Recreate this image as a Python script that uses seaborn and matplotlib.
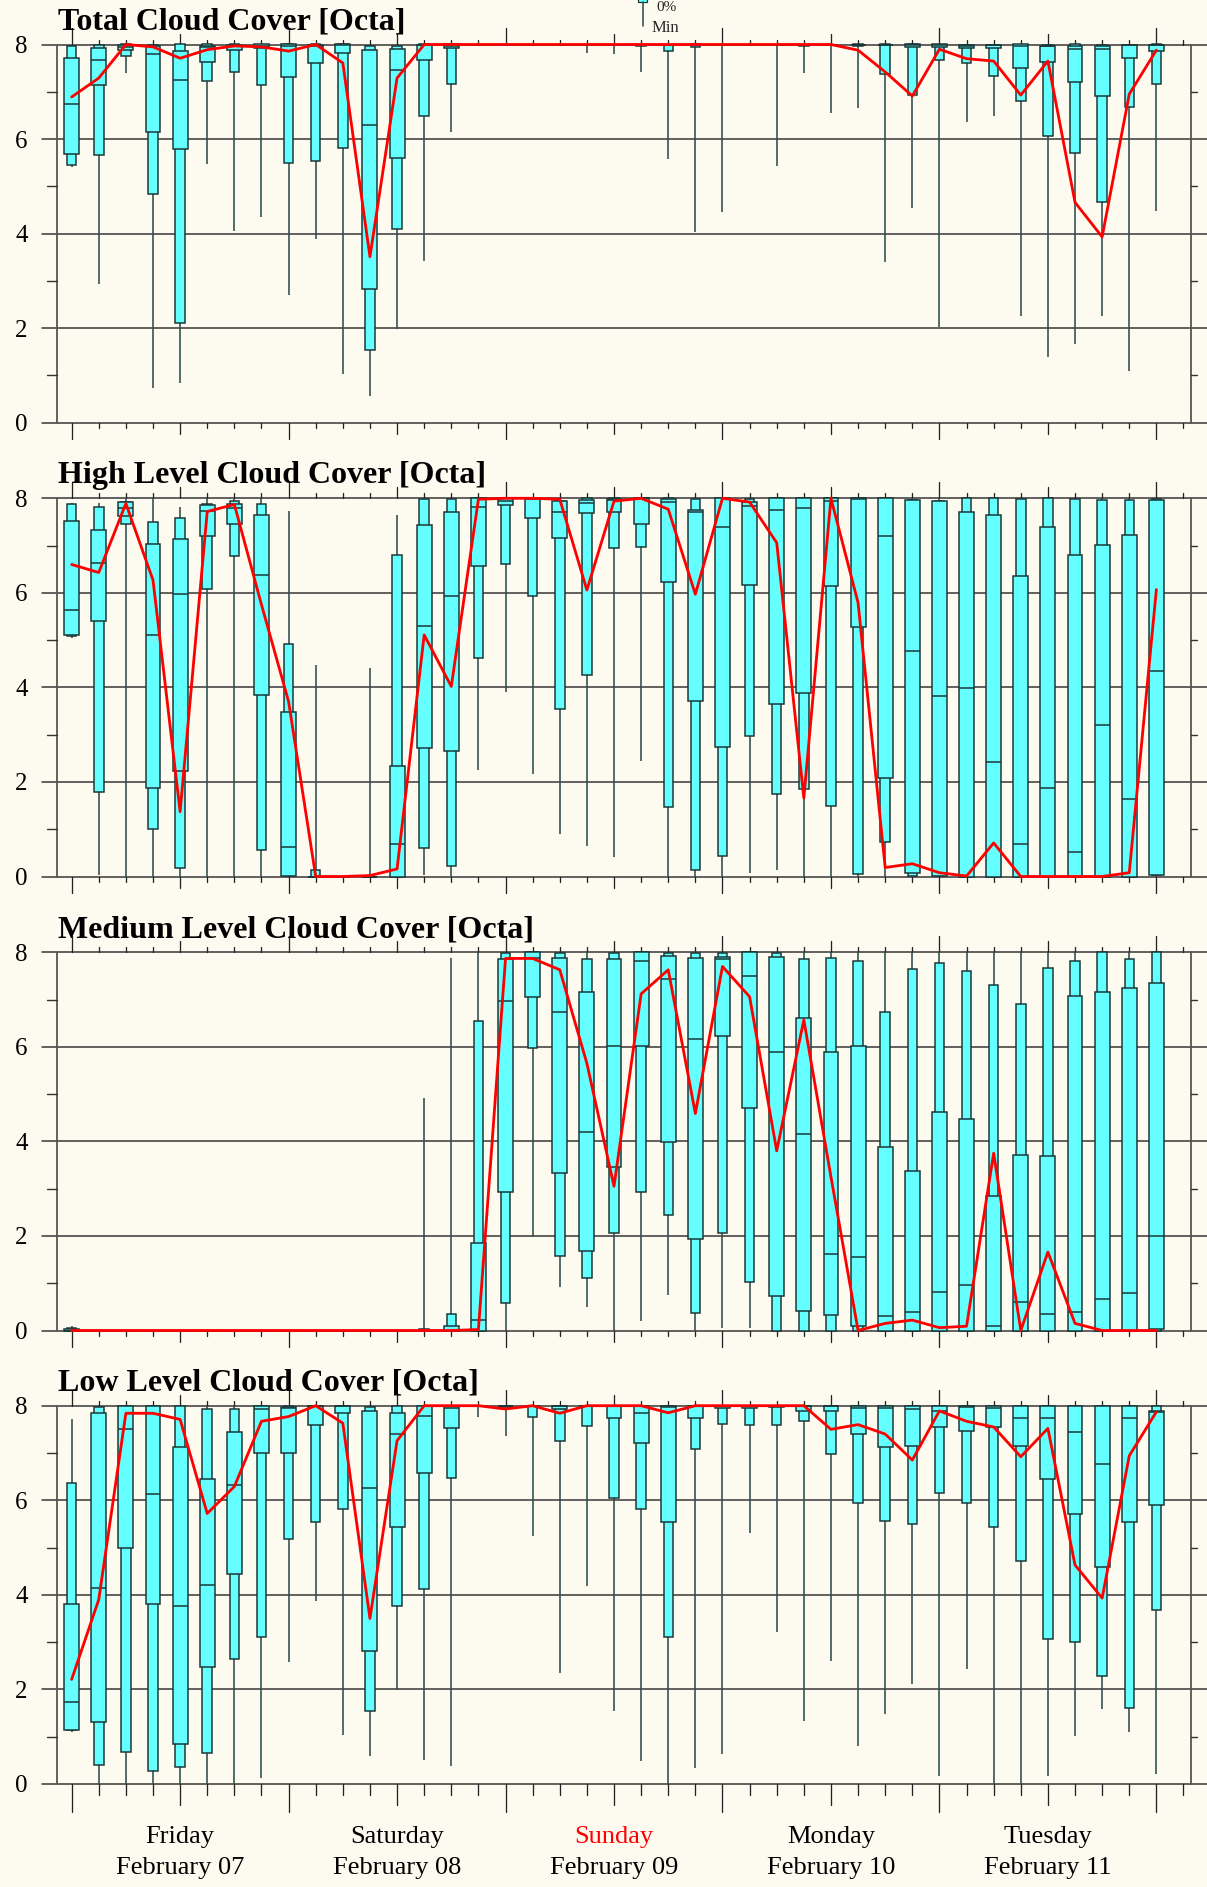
import numpy as np
import matplotlib
matplotlib.use('Agg')
import matplotlib.pyplot as plt
from matplotlib.patches import Rectangle
from matplotlib.lines import Line2D
import seaborn as sns

# forecast steps, hours after Friday 00 UTC
hours = list(range(0, 121, 3))
tick_hours = list(range(0, 124, 3))

day_names = ['Friday', 'Saturday', 'Sunday', 'Monday', 'Tuesday']
day_dates = ['February 07', 'February 08', 'February 09', 'February 10', 'February 11']
day_colors = ['black', 'black', 'red', 'black', 'black']

titles = ['Total Cloud Cover [Octa]', 'High Level Cloud Cover [Octa]',
          'Medium Level Cloud Cover [Octa]', 'Low Level Cloud Cover [Octa]']

# ---- Total cloud cover ----
total_min = [5.40, 2.94, 7.40, 0.74, 0.83, 5.48, 4.06, 4.36, 2.70, 3.88, 1.03, 0.57, 1.99, 3.42, 6.15, 8.0, 8.0, 8.0, 8.0, 7.81,
             7.80, 7.42, 5.57, 4.04, 4.46, 8.0, 5.43, 7.40, 6.55, 6.66, 3.39, 4.55, 2.03, 6.36, 6.49, 2.25, 1.40, 1.66, 2.25, 1.09, 4.47]
total_p10 = [5.46, 5.67, 7.75, 4.83, 2.11, 7.22, 7.41, 7.14, 5.50, 5.54, 5.81, 1.54, 4.09, 6.48, 7.17, 8.0, 8.0, 8.0, 8.0, 8.0,
             8.0, 7.96, 7.86, 7.95, 8.0, 8.0, 8.0, 7.96, 8.0, 7.97, 7.37, 6.94, 7.68, 7.60, 7.34, 6.81, 6.06, 5.71, 4.67, 6.68, 7.17]
total_p25 = [5.68, 7.15, 7.89, 6.15, 5.78, 7.62, 7.88, 7.92, 7.32, 7.60, 7.83, 2.83, 5.60, 7.67, 7.92, 8.0, 8.0, 8.0, 8.0, 8.0,
             8.0, 8.0, 8.0, 8.0, 8.0, 8.0, 8.0, 8.0, 8.0, 8.0, 8.0, 7.95, 7.95, 7.93, 7.93, 7.51, 7.62, 7.20, 6.92, 7.72, 7.87]
total_med = [6.74, 7.68, 7.95, 7.79, 7.24, 7.95, 7.96, 7.97, 7.97, 7.97, 7.98, 6.29, 7.47, 8.0, 7.97, 8.0, 8.0, 8.0, 8.0, 8.0,
             8.0, 8.0, 8.0, 8.0, 8.0, 8.0, 8.0, 8.0, 8.0, 8.0, 8.0, 8.0, 8.0, 7.97, 8.0, 7.97, 7.96, 7.91, 7.91, 8.0, 8.0]
total_p75 = [7.72, 7.93, 8.0, 7.97, 7.87, 7.96, 8.0, 8.0, 8.0, 8.0, 8.0, 7.89, 7.90, 8.0, 8.0, 8.0, 8.0, 8.0, 8.0, 8.0,
             8.0, 8.0, 8.0, 8.0, 8.0, 8.0, 8.0, 8.0, 8.0, 8.0, 8.0, 8.0, 8.0, 8.0, 8.0, 8.0, 7.96, 7.96, 7.96, 8.0, 8.0]
total_p90 = [7.96, 7.98, 8.0, 8.0, 8.0, 8.0, 8.0, 8.0, 8.0, 8.0, 8.0, 7.96, 7.97, 8.0, 8.0, 8.0, 8.0, 8.0, 8.0, 8.0,
             8.0, 8.0, 8.0, 8.0, 8.0, 8.0, 8.0, 8.0, 8.0, 8.0, 8.0, 8.0, 8.0, 8.0, 8.0, 8.0, 8.0, 8.0, 8.0, 8.0, 8.0]
total_max = [8.0] * 41
total_det = [6.89, 7.29, 8.0, 7.95, 7.71, 7.89, 7.97, 7.95, 7.86, 8.0, 7.61, 3.51, 7.29, 8.0, 8.0, 8.0, 8.0, 8.0, 8.0, 8.0,
             8.0, 8.0, 8.0, 8.0, 8.0, 8.0, 8.0, 8.0, 8.0, 7.88, 7.42, 6.91, 7.90, 7.70, 7.65, 6.93, 7.65, 4.66, 3.93, 6.95, 7.88]

# ---- High level cloud cover ----
high_min = [5.04, 0.04, 0.0, 0.0, 0.0, 0.0, 0.0, 0.0, 0.0, 0.0, 0.0, 0.0, 0.0, 0.04, 0.0, 2.26, 3.90, 2.16, 0.90, 0.65,
            0.41, 2.44, 0.0, 0.0, 0.0, 0.07, 0.14, 0.0, 0.0, 0.0, 0.0, 0.0, 0.0, 0.0, 0.0, 0.0, 0.0, 0.0, 0.0, 0.0, 0.0]
high_p10 = [5.09, 1.78, 7.45, 1.00, 0.18, 6.08, 6.78, 0.55, 0.02, 0.0, 0.0, 0.0, 0.0, 0.60, 0.23, 4.62, 6.60, 5.93, 3.54, 4.26,
            6.94, 6.96, 1.46, 0.14, 0.44, 2.97, 1.75, 1.86, 1.50, 0.05, 0.72, 0.02, 0.01, 0.0, 0.0, 0.0, 0.0, 0.0, 0.0, 0.0, 0.04]
high_p25 = [5.10, 5.41, 7.63, 1.87, 2.23, 7.20, 7.46, 3.83, 0.02, 0.0, 0.0, 0.0, 0.0, 2.72, 2.66, 6.57, 7.86, 7.58, 7.17, 7.68,
            7.70, 7.46, 6.24, 3.72, 2.74, 6.16, 3.65, 3.88, 6.14, 5.28, 2.08, 0.08, 0.01, 0.0, 0.0, 0.0, 0.0, 0.0, 0.0, 0.0, 0.04]
high_med = [5.63, 6.63, 7.80, 5.10, 5.98, 7.74, 7.79, 6.37, 0.63, 0.0, 0.0, 0.0, 0.68, 5.29, 5.93, 7.82, 7.95, 7.98, 7.70, 7.90,
            7.96, 8.0, 7.93, 7.70, 7.39, 7.84, 7.75, 7.80, 7.94, 7.98, 7.20, 4.76, 3.81, 3.98, 2.42, 0.68, 1.87, 0.51, 3.21, 1.64, 4.34]
high_p75 = [7.52, 7.33, 7.92, 7.03, 7.13, 7.86, 7.89, 7.65, 3.47, 0.0, 0.0, 0.0, 2.33, 7.44, 7.70, 8.0, 8.0, 8.0, 7.94, 7.96,
            7.98, 8.0, 7.98, 7.75, 8.0, 7.93, 8.0, 8.0, 8.0, 8.0, 8.0, 7.97, 7.94, 7.72, 7.65, 6.36, 7.39, 6.81, 7.01, 7.22, 7.96]
high_p90 = [7.89, 7.82, 7.93, 7.49, 7.58, 7.89, 7.94, 7.89, 4.92, 0.14, 0.0, 0.0, 6.80, 7.98, 7.98, 8.0, 8.0, 8.0, 7.94, 8.0,
            8.0, 8.0, 8.0, 7.99, 8.0, 7.98, 8.0, 8.0, 8.0, 8.0, 8.0, 7.97, 7.94, 8.0, 8.0, 7.98, 8.0, 7.98, 7.97, 7.96, 7.98]
high_max = [7.90, 7.90, 8.0, 8.0, 7.82, 8.0, 8.0, 8.0, 7.73, 4.48, 0.0, 4.42, 7.65, 8.0, 8.0, 8.0, 8.0, 8.0, 8.0, 8.0,
            8.0, 8.0, 8.0, 8.0, 8.0, 8.0, 8.0, 8.0, 8.0, 8.0, 8.0, 8.0, 8.0, 8.0, 8.0, 8.0, 8.0, 8.0, 8.0, 8.0, 8.0]
high_det = [6.60, 6.43, 7.89, 6.27, 1.37, 7.72, 7.87, 5.75, 3.70, 0.0, 0.0, 0.02, 0.16, 5.11, 4.02, 7.98, 8.0, 8.0, 7.98, 6.06,
            7.94, 8.0, 7.77, 5.97, 8.0, 7.92, 7.06, 1.66, 8.0, 5.79, 0.19, 0.27, 0.08, 0.01, 0.71, 0.0, 0.0, 0.0, 0.0, 0.08, 6.07]

# ---- Medium level cloud cover ----
mid_min = [0.0] * 17 + [1.98, 0.91, 0.49, 0.0, 0.20, 0.76, 0.0, 0.06, 0.06] + [0.0] * 15
mid_p10 = [0.0] * 16 + [0.59, 5.97, 1.58, 1.10, 2.07, 2.92, 2.44, 0.38, 2.07, 1.02] + [0.0] * 15
mid_p25 = [0.0] * 16 + [2.92, 7.06, 3.34, 1.68, 3.46, 6.02, 3.99, 1.93, 6.22, 4.70, 0.73, 0.42, 0.32, 0.09,
                        0.0, 0.0, 0.0, 0.0, 0.0, 0.0, 0.0, 0.0, 0.0, 0.0, 0.04]
mid_med = [0.0] * 15 + [0.22, 6.96, 7.87, 6.74, 4.19, 6.02, 7.82, 7.44, 6.17, 7.85, 7.50, 5.90, 4.16, 1.61, 1.55,
                        0.30, 0.40, 0.82, 0.97, 0.09, 0.61, 0.35, 0.39, 0.67, 0.80, 2.00]
mid_p75 = [0.03] + [0.0] * 13 + [0.09, 1.86, 7.85, 8.0, 7.87, 7.15, 7.86, 8.0, 7.92, 7.87, 7.91, 8.0, 7.91, 6.62, 5.90, 6.02,
                                 3.89, 3.37, 4.62, 4.47, 2.85, 3.72, 3.69, 7.08, 7.17, 7.24, 7.36]
mid_p90 = [0.06] + [0.0] * 12 + [0.04, 0.34, 6.55, 7.98, 8.0, 7.98, 7.86, 7.98, 8.0, 7.98, 7.98, 7.98, 8.0, 7.98, 7.86, 7.89, 7.82,
                                 6.74, 7.64, 7.77, 7.60, 7.31, 6.91, 7.66, 7.82, 8.0, 7.85, 8.0]
mid_max = [0.10] + [0.0] * 12 + [4.92, 7.89] + [8.0] * 26
mid_det = [0.0] * 15 + [0.02, 7.87, 7.87, 7.63, 5.65, 3.05, 7.12, 7.63, 4.59, 7.70, 7.06, 3.80, 6.57, 3.25, 0.0,
                        0.15, 0.22, 0.06, 0.09, 3.75, 0.0, 1.66, 0.15, 0.0, 0.0, 0.0]

# ---- Low level cloud cover ----
low_min = [1.10, 0.0, 0.0, 0.0, 0.0, 0.0, 0.0, 0.12, 2.57, 3.87, 1.04, 0.58, 1.99, 0.51, 0.37, 7.77, 7.36, 5.25, 2.34, 4.19,
           1.54, 0.49, 0.0, 0.33, 0.63, 5.31, 3.22, 1.32, 2.61, 0.80, 1.48, 2.11, 0.16, 2.42, 0.0, 0.0, 0.16, 1.01, 1.58, 1.09, 0.21]
low_p10 = [1.14, 0.39, 0.67, 0.28, 0.35, 0.65, 2.64, 3.11, 5.19, 5.53, 5.81, 1.54, 3.76, 4.12, 6.48, 8.0, 7.96, 7.77, 7.26, 7.58,
           6.05, 5.81, 3.11, 7.08, 7.61, 7.59, 7.59, 7.67, 6.97, 5.95, 5.57, 5.49, 6.16, 5.95, 5.44, 4.71, 3.07, 3.00, 2.28, 1.60, 3.68]
low_p25 = [1.14, 1.30, 4.98, 3.80, 0.84, 2.47, 4.44, 6.99, 6.99, 7.59, 7.84, 2.81, 5.44, 6.57, 7.53, 8.0, 8.0, 8.0, 7.94, 8.0,
           7.75, 7.22, 5.55, 7.75, 7.95, 7.96, 7.98, 7.89, 7.89, 7.40, 7.12, 7.15, 7.54, 7.46, 7.54, 7.15, 6.44, 5.70, 4.59, 5.53, 5.90]
low_med = [1.74, 4.14, 7.50, 6.13, 3.76, 4.21, 6.32, 7.94, 7.96, 8.0, 8.0, 6.25, 7.41, 7.79, 7.95, 8.0, 8.0, 8.0, 8.0, 8.0,
           8.0, 7.84, 7.98, 8.0, 8.0, 8.0, 8.0, 8.0, 8.0, 7.96, 7.96, 7.93, 7.89, 7.98, 7.96, 7.75, 7.73, 7.45, 6.76, 7.74, 7.87]
low_p75 = [3.80, 7.85, 8.0, 8.0, 7.13, 6.44, 7.45, 8.0, 7.97, 8.0, 8.0, 7.89, 7.84, 8.0, 8.0, 8.0, 8.0, 8.0, 8.0, 8.0,
           8.0, 8.0, 8.0, 8.0, 8.0, 8.0, 8.0, 8.0, 8.0, 8.0, 8.0, 8.0, 8.0, 8.0, 8.0, 8.0, 8.0, 8.0, 8.0, 8.0, 7.89]
low_p90 = [6.36, 7.98, 8.0, 8.0, 8.0, 7.93, 7.94, 8.0, 8.0, 8.0, 8.0, 7.98, 8.0, 8.0, 8.0, 8.0, 8.0, 8.0, 8.0, 8.0,
           8.0, 8.0, 8.0, 8.0, 8.0, 8.0, 8.0, 8.0, 8.0, 8.0, 8.0, 8.0, 8.0, 8.0, 8.0, 8.0, 8.0, 8.0, 8.0, 8.0, 8.0]
low_max = [7.71] + [8.0] * 40
low_det = [2.21, 3.90, 7.84, 7.84, 7.71, 5.72, 6.29, 7.67, 7.77, 8.0, 7.63, 3.50, 7.26, 8.0, 8.0, 8.0, 7.93, 8.0, 7.84, 8.0,
           8.0, 8.0, 7.85, 8.0, 8.0, 8.0, 8.0, 8.0, 7.50, 7.60, 7.40, 6.85, 7.89, 7.67, 7.55, 6.92, 7.52, 4.63, 3.93, 6.94, 7.87]

panels = [
    (total_min, total_p10, total_p25, total_med, total_p75, total_p90, total_max, total_det),
    (high_min, high_p10, high_p25, high_med, high_p75, high_p90, high_max, high_det),
    (mid_min, mid_p10, mid_p25, mid_med, mid_p75, mid_p90, mid_max, mid_det),
    (low_min, low_p10, low_p25, low_med, low_p75, low_p90, low_max, low_det),
]

BG = '#FDFAF0'
BOX = '#66FFFF'
EDGE = '#1A3535'
WHISK = '#2F4F4F'
GRID = '#333333'
PT = 0.72  # points per pixel at dpi 100

W, H = 1207, 1887
sns.set_theme(style='ticks')
plt.rcParams['font.family'] = ['Liberation Serif', 'DejaVu Serif']

fig = plt.figure(figsize=(W / 100, H / 100), dpi=100, facecolor=BG)

ax_left, ax_right = 57, 1191
panel_tops = [44.5, 498.3, 952.3, 1405.7]
panel_h = 378.2
ax_w = ax_right - ax_left

for k, (mn, p10, p25, med, p75, p90, mx, det) in enumerate(panels):
    top = panel_tops[k]
    ax = fig.add_axes([ax_left / W, 1 - (top + panel_h) / H, ax_w / W, panel_h / H])
    ax.set_facecolor(BG)
    ax.set_xlim(-1.62, 123.83)
    ax.set_ylim(0, 8)
    for s in ax.spines.values():
        s.set_visible(False)
    ax.set_xticks([])
    ax.set_yticks([0, 2, 4, 6, 8])
    ax.tick_params(axis='y', length=0, pad=21, labelsize=18, labelcolor='black')
    ax.tick_params(axis='x', length=0)

    ytr = ax.get_yaxis_transform()
    xtr = ax.get_xaxis_transform()
    # horizontal grid lines, running past both sides of the frame
    for yv in [0, 2, 4, 6, 8]:
        ax.plot([-15 / ax_w, 1 + 16 / ax_w], [yv, yv], transform=ytr, clip_on=False,
                color=GRID, lw=1.5 * PT, zorder=1)
    # odd minor ticks
    for yv in [1, 3, 5, 7]:
        ax.plot([-10 / ax_w, 0], [yv, yv], transform=ytr, clip_on=False, color=GRID, lw=1.4 * PT)
        ax.plot([1, 1 + 6 / ax_w], [yv, yv], transform=ytr, clip_on=False, color=GRID, lw=1.4 * PT)
    # left and right frame lines
    ax.plot([0, 0], [0, 1], transform=ax.transAxes, clip_on=False, color='#555555', lw=1.8 * PT, zorder=1)
    ax.plot([1, 1], [0, 1], transform=ax.transAxes, clip_on=False, color='#555555', lw=1.8 * PT, zorder=1)

    # time ticks above and below the frame
    for t in tick_hours:
        if t % 24 == 0:
            lt, lb = 16, (28 if k == 3 else 16)
        elif t % 12 == 0:
            lt, lb = 11, (21 if k == 3 else 11)
        else:
            lt, lb = 5, (11 if k == 3 else 5.5)
        ax.plot([t, t], [1, 1 + lt / panel_h], transform=xtr, clip_on=False, color='#222222', lw=1.3 * PT)
        ax.plot([t, t], [0, -lb / panel_h], transform=xtr, clip_on=False, color='#222222', lw=1.3 * PT)

    x = np.array(hours, dtype=float)
    mn, p10, p25, med, p75, p90, mx = map(np.array, (mn, p10, p25, med, p75, p90, mx))
    ax.vlines(x, mn, mx, color=WHISK, lw=1.6 * PT, zorder=2, clip_on=False)
    ax.bar(x, p90 - p10, bottom=p10, width=1.05, color=BOX, edgecolor=EDGE,
           linewidth=1.5 * PT, zorder=3, clip_on=False)
    ax.bar(x, p75 - p25, bottom=p25, width=1.65, color=BOX, edgecolor=EDGE,
           linewidth=1.5 * PT, zorder=4, clip_on=False)
    ax.hlines(med, x - 0.825, x + 0.825, color=EDGE, lw=1.5 * PT, zorder=5, clip_on=False)
    sns.lineplot(x=x, y=det, color='red', lw=2.8 * PT, ax=ax, zorder=6, clip_on=False)
    ax.set_xlabel('')
    ax.set_ylabel('')

    fig.text(58.5 / W, 1 - (top - 15.2) / H, titles[k], fontsize=23, fontweight='bold',
             ha='left', va='baseline', color='black')

    if k == 3:
        for i in range(5):
            xc = 12 + 24 * i
            ax.text(xc, -59 / panel_h, day_names[i], transform=xtr, ha='center', va='baseline',
                    fontsize=19, color=day_colors[i])
            ax.text(xc, -90 / panel_h, day_dates[i], transform=xtr, ha='center', va='baseline',
                    fontsize=19, color='black')

# partly visible legend symbol at the top edge
fig.patches.append(Rectangle((638 / W, 1 - 1.7 / H), 9.3 / W, 12 / H, transform=fig.transFigure,
                             facecolor=BOX, edgecolor=EDGE, lw=1.2 * PT))
fig.lines.append(Line2D([642.6 / W, 642.6 / W], [1 - 1.7 / H, 1 - 25.7 / H], transform=fig.transFigure,
                        color=WHISK, lw=1.6 * PT))
fig.text(656 / W, 1 - 11 / H, '0%', fontsize=11, ha='left', va='baseline')
fig.text(652 / W, 1 - 32 / H, 'Min', fontsize=12, ha='left', va='baseline')

fig.savefig('out.png', dpi=100, facecolor=BG)
